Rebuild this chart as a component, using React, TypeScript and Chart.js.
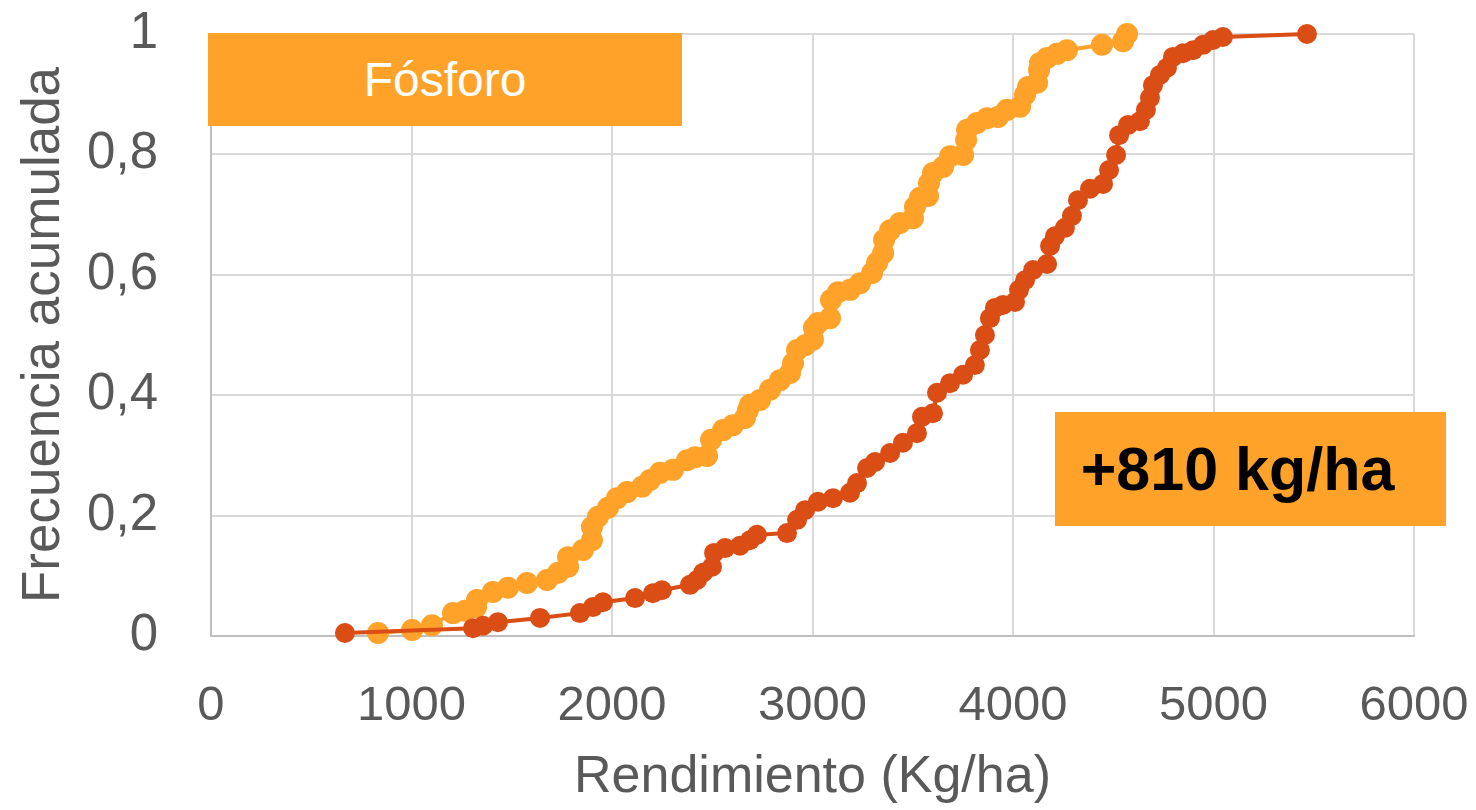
import React, { useEffect, useRef } from "react";
import { Chart, registerables } from "chart.js";

Chart.register(...registerables);

// Light orange series (lower yields)
const controlYield = [
  833, 1003, 1102, 1207, 1267, 1322, 1327, 1406, 1481, 1576, 1676, 1731, 1781, 1781, 1855, 1900,
  1900, 1930, 1980, 2025, 2075, 2150, 2190, 2239, 2304, 2374, 2414, 2474, 2494, 2554, 2603, 2663,
  2678, 2688, 2738, 2788, 2838, 2888, 2903, 2923, 2963, 3002, 3007, 3027, 3087, 3092, 3127, 3187,
  3237, 3297, 3322, 3352, 3357, 3387, 3436, 3501, 3511, 3536, 3576, 3581, 3601, 3651, 3686, 3751,
  3766, 3771, 3820, 3870, 3925, 3970, 4035, 4060, 4075, 4120, 4130, 4135, 4170, 4219, 4269, 4444,
  4549, 4569,
];
const controlFreq = [
  0.005, 0.01, 0.018, 0.038, 0.042, 0.048, 0.06, 0.073, 0.08, 0.088, 0.093, 0.105, 0.115, 0.131, 0.143, 0.159,
  0.181, 0.198, 0.213, 0.229, 0.239, 0.248, 0.259, 0.271, 0.276, 0.292, 0.297, 0.299, 0.326, 0.342, 0.35, 0.362,
  0.375, 0.384, 0.392, 0.409, 0.425, 0.437, 0.453, 0.475, 0.483, 0.492, 0.512, 0.52, 0.528, 0.558, 0.571, 0.575,
  0.586, 0.603, 0.62, 0.636, 0.658, 0.674, 0.686, 0.694, 0.713, 0.728, 0.731, 0.752, 0.769, 0.779, 0.797, 0.799,
  0.824, 0.841, 0.852, 0.86, 0.862, 0.874, 0.879, 0.899, 0.912, 0.919, 0.94, 0.952, 0.96, 0.967, 0.973, 0.982,
  0.988, 1.0,
];

// Dark orange series (higher yields)
const phosphorusYield = [
  668, 1307, 1357, 1431, 1641, 1840, 1905, 1955, 2115, 2204, 2249, 2389, 2424, 2454, 2499, 2509,
  2564, 2638, 2688, 2723, 2873, 2923, 2963, 3027, 3102, 3187, 3222, 3272, 3312, 3387, 3451, 3521,
  3546, 3601, 3621, 3686, 3751, 3810, 3835, 3860, 3885, 3910, 3950, 4010, 4030, 4060, 4100, 4170,
  4185, 4209, 4259, 4294, 4324, 4384, 4449, 4479, 4514, 4529, 4574, 4633, 4663, 4683, 4698, 4733,
  4768, 4798, 4848, 4898, 4948, 4998, 5047, 5466,
];
const phosphorusFreq = [
  0.005, 0.013, 0.017, 0.023, 0.03, 0.038, 0.048, 0.056, 0.063, 0.071, 0.076, 0.085, 0.093, 0.105, 0.115, 0.138,
  0.146, 0.15, 0.159, 0.168, 0.171, 0.193, 0.209, 0.223, 0.229, 0.238, 0.254, 0.279, 0.289, 0.304, 0.321, 0.337,
  0.364, 0.37, 0.404, 0.42, 0.434, 0.45, 0.475, 0.5, 0.528, 0.545, 0.55, 0.555, 0.575, 0.591, 0.608, 0.618,
  0.648, 0.664, 0.678, 0.698, 0.724, 0.743, 0.751, 0.774, 0.799, 0.832, 0.849, 0.855, 0.874, 0.894, 0.915, 0.932,
  0.944, 0.962, 0.968, 0.973, 0.982, 0.99, 0.995, 1.0,
];

const xTicks = [0, 1000, 2000, 3000, 4000, 5000, 6000];
const yTicks = [0, 0.2, 0.4, 0.6, 0.8, 1];
const yTickLabels = ["0", "0,2", "0,4", "0,6", "0,8", "1"];

const xTitle = "Rendimiento (Kg/ha)";
const yTitle = "Frecuencia acumulada";
const boxLabel = "Fósforo";
const diffLabel = "+810 kg/ha";

const LIGHT = "#FFA229";
const DARK = "#DA4D14";
const TEXT = "#595959";
const FONT = "'Liberation Sans', Arial, sans-serif";

export default function App() {
  const ref = useRef<HTMLCanvasElement | null>(null);

  useEffect(() => {
    document.body.style.margin = "0";
    const canvas = ref.current;
    if (!canvas) return;
    const toPts = (xs: number[], ys: number[]) => xs.map((x, i) => ({ x, y: ys[i] }));
    const chart = new Chart(canvas, {
      type: "line",
      data: {
        datasets: [
          {
            label: "Fósforo",
            data: toPts(phosphorusYield, phosphorusFreq),
            borderColor: DARK,
            backgroundColor: DARK,
            pointBackgroundColor: DARK,
            pointBorderWidth: 0,
            pointRadius: 10,
            borderWidth: 4,
            tension: 0,
            clip: false as any,
          },
          {
            label: "Testigo",
            data: toPts(controlYield, controlFreq),
            borderColor: LIGHT,
            backgroundColor: LIGHT,
            pointBackgroundColor: LIGHT,
            pointBorderWidth: 0,
            pointRadius: 11,
            borderWidth: 4,
            tension: 0,
            clip: false as any,
          },
        ],
      },
      options: {
        responsive: false,
        animation: false,
        layout: { padding: { top: 34, right: 62, left: 0, bottom: 0 } },
        plugins: {
          legend: { display: false },
          tooltip: { enabled: false },
        },
        scales: {
          x: {
            type: "linear",
            min: 0,
            max: 6000,
            afterFit: (s: any) => {
              s.height = 174;
              s.paddingLeft = 0;
              s.paddingRight = 0;
            },
            afterBuildTicks: (s: any) => {
              s.ticks = xTicks.map((v) => ({ value: v }));
            },
            ticks: {
              color: TEXT,
              font: { family: FONT, size: 49 },
              padding: 41,
              maxRotation: 0,
              autoSkip: false,
              callback: (v: any) => String(v),
            },
            grid: { color: "#D9D9D9", lineWidth: 2, drawTicks: false },
            border: { display: true, color: "#BFBFBF", width: 2 },
            title: {
              display: true,
              text: xTitle,
              color: TEXT,
              font: { family: FONT, size: 52 },
              padding: { top: 0, bottom: 1 },
            },
          },
          y: {
            type: "linear",
            min: 0,
            max: 1,
            afterFit: (s: any) => {
              s.width = 211;
              s.paddingTop = 0;
              s.paddingBottom = 0;
            },
            afterBuildTicks: (s: any) => {
              s.ticks = yTicks.map((v) => ({ value: v }));
            },
            ticks: {
              color: TEXT,
              font: { family: FONT, size: 51 },
              padding: 53,
              autoSkip: false,
              callback: (v: any) => {
                const i = yTicks.findIndex((t) => Math.abs(t - Number(v)) < 1e-6);
                return i >= 0 ? yTickLabels[i] : "";
              },
            },
            grid: { color: "#D9D9D9", lineWidth: 2, drawTicks: false },
            border: { display: true, color: "#BFBFBF", width: 2 },
            title: {
              display: true,
              text: yTitle,
              color: TEXT,
              font: { family: FONT, size: 53 },
              padding: { top: 13, bottom: 0 },
            },
          },
        },
      },
    });
    return () => chart.destroy();
  }, []);

  return (
    <div style={{ position: "relative", width: 1476, height: 810, background: "#fff" }}>
      <canvas ref={ref} width={1476} height={810} style={{ display: "block" }} />
      <div
        style={{
          position: "absolute",
          left: 208,
          top: 33,
          width: 474,
          height: 93,
          background: LIGHT,
          color: "#fff",
          fontFamily: FONT,
          fontSize: 48,
          display: "flex",
          alignItems: "center",
          justifyContent: "center",
        }}
      >
        {boxLabel}
      </div>
      <div
        style={{
          position: "absolute",
          left: 1055,
          top: 412,
          width: 365,
          paddingRight: 26,
          height: 114,
          background: LIGHT,
          color: "#000",
          fontFamily: FONT,
          fontWeight: "bold",
          fontSize: 61,
          display: "flex",
          alignItems: "center",
          justifyContent: "center",
        }}
      >
        {diffLabel}
      </div>
    </div>
  );
}
